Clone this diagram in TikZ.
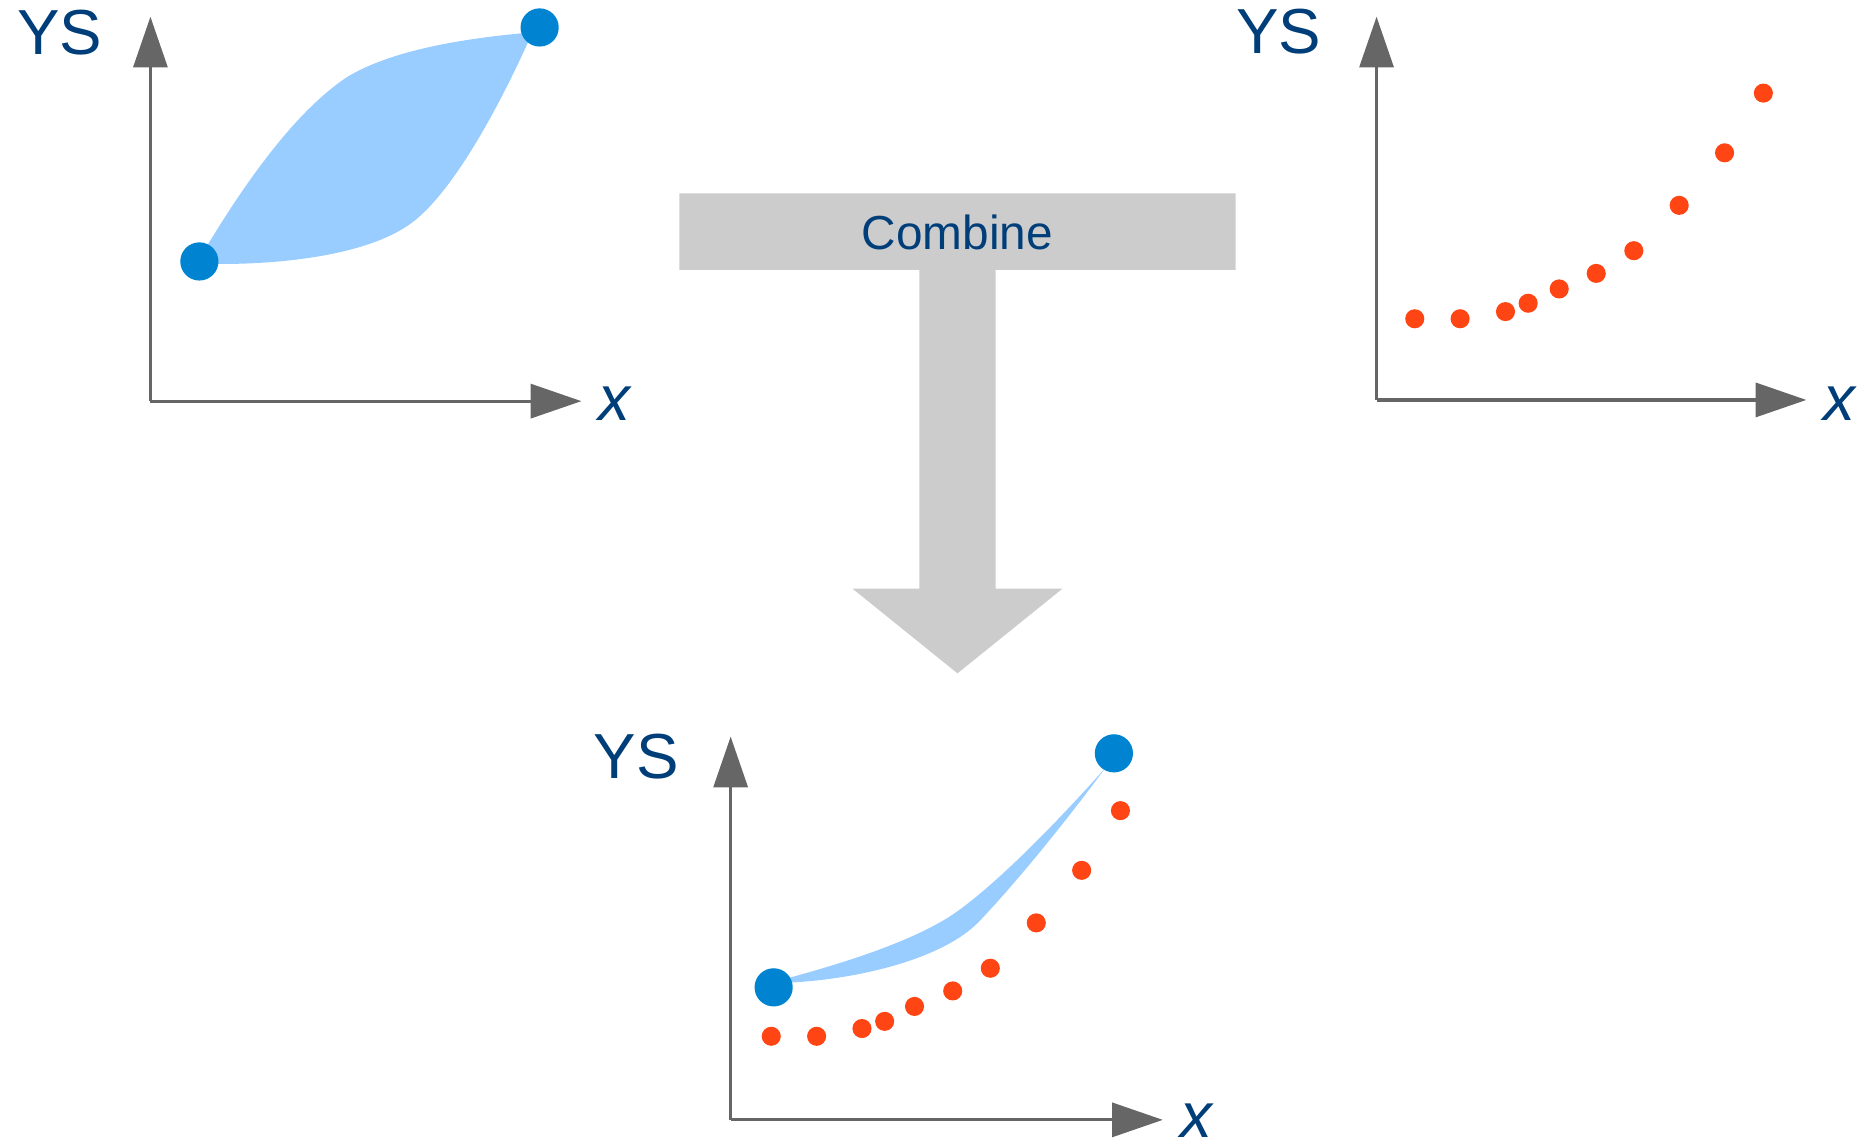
\documentclass[tikz,border=0pt]{standalone}
\usepackage{fontspec}
\usetikzlibrary{arrows.meta}
\newfontfamily\labelfont{Liberation Sans}
\definecolor{axisgrey}{rgb}{0.4,0.4,0.4}
\definecolor{ysblue}{rgb}{0,0.243,0.478}
\definecolor{bandblue}{rgb}{0.6,0.8,1}
\definecolor{dotblue}{rgb}{0,0.518,0.82}
\definecolor{dotred}{rgb}{1,0.271,0.075}
\definecolor{arrowgrey}{rgb}{0.8,0.8,0.8}

\begin{document}
\begin{tikzpicture}[x=0.75pt,y=0.75pt,yscale=-1,xscale=1,
  axis/.style={color=axisgrey, line width=2pt, -{Triangle[length=31.9pt,width=21.4pt]}},
  bluedot/.style={circle, fill=dotblue, inner sep=0pt, minimum size=24pt},
  reddot/.style={circle, fill=dotred, inner sep=0pt, minimum size=12pt},
  ystext/.style={text=ysblue, font=\labelfont\fontsize{40}{48}\selectfont},
  xtext/.style={text=ysblue, inner sep=0pt, font=\labelfont\itshape\fontsize{40}{48}\selectfont}]
\useasboundingbox (0,0) rectangle (1568,959);

%Shape: Axis top left
\coordinate (tlO) at (126,336);
\coordinate (tlY) at (126,14);
\coordinate (tlX) at (487,336);
\draw [axis] (tlO) -- (tlY);
\draw [axis] (tlO) -- (tlX);
%Shape: Band top left
\fill [bandblue] (171,210) .. controls (210,145) and (250,92) .. (290,65) .. controls (335,37) and (415,30) .. (446,27) .. controls (425,75) and (380,165) .. (340,190) .. controls (300,216) and (225,222) .. (176,221) -- cycle ;
\node [bluedot] (tlLow) at (167,219) {};
\node [bluedot] (tlHigh) at (452,23) {};
% Text Node
\node [ystext] (tlYS) at (50,27.5) {YS};
% Text Node
\node [xtext] (tlx) at (515,338) {x};

%Shape: Axis top right
\coordinate (trO) at (1153,335);
\coordinate (trY) at (1153,14);
\coordinate (trX) at (1513,335);
\draw [axis] (trO) -- (trY);
\draw [axis] (trO) -- (trX);
\node [reddot] (tr1) at (1185,267) {};
\node [reddot] (tr2) at (1223,267) {};
\node [reddot] (tr3) at (1261,261) {};
\node [reddot] (tr4) at (1280,254) {};
\node [reddot] (tr5) at (1306,242) {};
\node [reddot] (tr6) at (1337,229) {};
\node [reddot] (tr7) at (1368.5,210) {};
\node [reddot] (tr8) at (1406.5,172) {};
\node [reddot] (tr9) at (1444.5,128) {};
\node [reddot] (tr10) at (1477,78) {};
% Text Node
\node [ystext] (trYS) at (1071,26.5) {YS};
% Text Node
\node [xtext] (trx) at (1541,338) {x};

%Shape: Combine arrow
\fill [arrowgrey] (569,162) -- (1035,162) -- (1035,226) -- (834,226) -- (834,493) -- (890,493) -- (802,564) -- (714,493) -- (770,493) -- (770,226) -- (569,226) -- cycle ;
% Text Node
\node [text=ysblue, font=\labelfont\fontsize{30}{36}\selectfont] (combine) at (802,195) {Combine};

%Shape: Axis bottom
\coordinate (bO) at (612,938);
\coordinate (bY) at (612,617);
\coordinate (bX) at (974,938);
\draw [axis] (bO) -- (bY);
\draw [axis] (bO) -- (bX);
%Shape: Band bottom
\fill [bandblue] (661,819) .. controls (705,807) and (760,790) .. (795,768) .. controls (835,742) and (895,678) .. (926,643) .. controls (895,685) and (855,735) .. (820,772) .. controls (790,803) and (720,820) .. (662,823) -- cycle ;
\node [bluedot] (bLow) at (648,827) {};
\node [bluedot] (bHigh) at (933,631) {};
\node [reddot] (b1) at (646,868) {};
\node [reddot] (b2) at (684,868) {};
\node [reddot] (b3) at (722,861.5) {};
\node [reddot] (b4) at (741,855.5) {};
\node [reddot] (b5) at (766,843) {};
\node [reddot] (b6) at (798,830) {};
\node [reddot] (b7) at (829.5,811) {};
\node [reddot] (b8) at (868,773) {};
\node [reddot] (b9) at (906,729) {};
\node [reddot] (b10) at (938.5,679) {};
% Text Node
\node [ystext] (bYS) at (533,633.5) {YS};
% Text Node
\node [xtext] (bx) at (1002.5,939) {x};

\end{tikzpicture}
\end{document}
